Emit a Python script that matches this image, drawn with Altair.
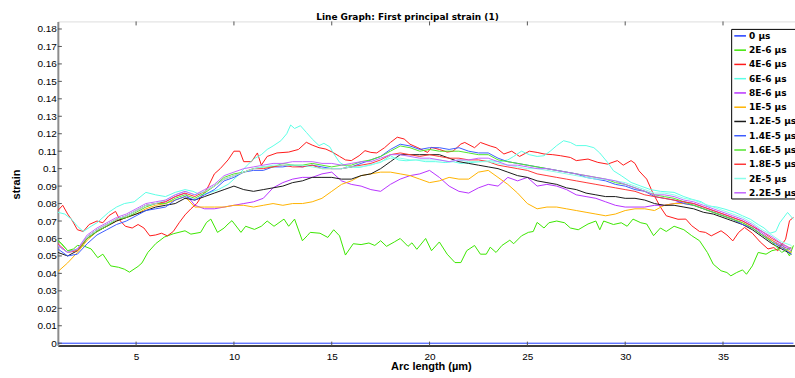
import altair as alt
import pandas as pd

# Series labels and line colours (legend order)
SERIES = ["0 µs", "2E-6 µs", "4E-6 µs", "6E-6 µs", "8E-6 µs", "1E-5 µs",
          "1.2E-5 µs", "1.4E-5 µs", "1.6E-5 µs", "1.8E-5 µs", "2E-5 µs", "2.2E-5 µs"]
COLORS = ["#1f3cff", "#3ce600", "#ff1a1a", "#5cffe6", "#b833ff", "#ffb300",
          "#1a1a1a", "#3d5cff", "#52e62e", "#ff3838", "#8affea", "#c266ff"]

# Arc length sample positions (µm) shared by the smoother curves
X_GRID = [1.0, 1.5, 2.0, 2.5, 3.0, 3.5, 4.0, 4.5, 5.0, 5.5,
          6.0, 6.5, 7.0, 7.5, 8.0, 8.5, 9.0, 9.5, 10.0, 10.5,
          11.0, 11.5, 12.0, 12.5, 13.0, 13.5, 14.0, 14.5, 15.0, 15.5,
          16.0, 16.5, 17.0, 17.5, 18.0, 18.5, 19.0, 19.5, 20.0, 20.5,
          21.0, 21.5, 22.0, 22.5, 23.0, 23.5, 24.0, 24.5, 25.0, 25.5,
          26.0, 26.5, 27.0, 27.5, 28.0, 28.5, 29.0, 29.5, 30.0, 30.5,
          31.0, 31.5, 32.0, 32.5, 33.0, 33.5, 34.0, 34.5, 35.0, 35.5,
          36.0, 36.5, 37.0, 37.5, 38.0, 38.5]

STRAIN_0 = [(1.0, 0.0), (38.6, 0.0)]

STRAIN_2E6 = [(1.0, .059), (1.2, .057), (1.5, .053), (1.8, .054), (2.0, .056), (2.3, .0558),
              (2.7, .054), (3.04, .049), (3.3, .051), (3.7, .0443), (4.1, .0435), (4.4, .0424),
              (4.66, .0407), (5.1, .044), (5.3, .046), (5.6, .052), (6.0, .057), (6.44, .0608),
              (6.9, .0627), (7.5, .0644), (7.8, .0625), (8.3, .0635), (8.6, .0692), (8.82, .0711),
              (9.16, .0635), (9.5, .066), (9.7, .0683), (9.9, .0702), (10.36, .0635), (10.6, .067),
              (11.05, .0652), (11.4, .067), (11.7, .070), (12.05, .067), (12.56, .0711), (12.8, .067),
              (13.1, .0711), (13.5, .0587), (13.75, .0616), (13.9, .0635), (14.4, .063), (14.8, .0606),
              (15.1, .065), (15.4, .0615), (15.7, .0505), (16.1, .057), (16.5, .0565), (16.9, .0574),
              (17.2, .056), (17.5, .0587), (17.8, .0555), (18.2, .058), (18.5, .060), (18.9, .0555),
              (19.1, .0575), (19.35, .0538), (19.8, .060), (20.1, .053), (20.5, .058), (20.9, .051),
              (21.3, .0462), (21.6, .0462), (21.9, .053), (22.3, .056), (22.6, .051), (22.9, .051),
              (23.1, .055), (23.4, .052), (23.7, .056), (24.1, .059), (24.3, .057), (24.7, .0615),
              (25.05, .0635), (25.3, .064), (25.5, .0692), (25.85, .066), (26.1, .069), (26.5, .070),
              (26.9, .069), (27.2, .066), (27.6, .065), (28.1, .0683), (28.5, .070), (28.7, .065),
              (28.9, .070), (29.4, .068), (29.8, .069), (30.1, .067), (30.4, .0711), (30.8, .069),
              (31.1, .0683), (31.45, .0616), (31.8, .066), (32.1, .064), (32.5, .067), (33.0, .065),
              (33.4, .0616), (33.8, .0587), (34.2, .052), (34.5, .0453), (34.9, .0415), (35.2, .0405),
              (35.4, .0386), (35.7, .0405), (36.0, .042), (36.2, .0395), (36.5, .0443), (36.8, .052),
              (37.2, .051), (37.5, .053), (37.8, .0538), (38.0, .057), (38.4, .050), (38.6, .056)]

STRAIN_4E6 = [(1.0, .076), (1.25, .079), (1.5, .074), (1.75, .070), (2.0, .065), (2.3, .064),
              (2.6, .068), (3.0, .070), (3.3, .069), (3.6, .073), (3.95, .0755), (4.2, .070),
              (4.45, .067), (4.8, .066), (5.1, .068), (5.4, .066), (5.7, .0615), (6.0, .062),
              (6.3, .063), (6.6, .0615), (6.9, .064), (7.2, .069), (7.5, .0735), (7.8, .077),
              (8.1, .080), (8.4, .085), (8.7, .090), (9.0, .097), (9.3, .100), (9.7, .105),
              (10.0, .110), (10.3, .110), (10.5, .104), (10.9, .104), (11.2, .109), (11.4, .102),
              (11.7, .107), (12.2, .109), (12.8, .1095), (13.3, .111), (13.7, .1151), (14.0, .1135),
              (14.35, .112), (14.7, .1112), (15.06, .1093), (15.4, .107), (15.7, .105), (16.0, .1046),
              (16.4, .1074), (16.7, .1103), (17.0, .1093), (17.3, .109), (17.7, .112), (18.0, .115),
              (18.35, .118), (18.7, .117), (19.0, .114), (19.4, .112), (19.9, .1093), (20.1, .1122),
              (20.5, .111), (20.9, .1095), (21.2, .110), (21.6, .1141), (21.8, .115), (22.3, .112),
              (22.6, .115), (23.1, .113), (23.4, .112), (23.8, .1084), (24.2, .110), (24.6, .107),
              (25.1, .110), (25.5, .1093), (25.85, .1084), (26.3, .108), (26.7, .1074), (27.2, .1064),
              (27.5, .1046), (28.1, .1055), (28.6, .1036), (29.1, .1026), (29.6, .1046), (29.9, .102),
              (30.3, .1046), (30.5, .103), (30.7, .0988), (31.1, .094), (31.4, .0864), (31.8, .078),
              (32.1, .073), (32.7, .071), (33.1, .0711), (33.4, .0673), (33.8, .064), (34.1, .0635),
              (34.4, .0615), (34.9, .0644), (35.2, .062), (35.5, .0586), (35.8, .0635), (36.1, .0663),
              (36.5, .063), (36.9, .058), (37.3, .054), (37.6, .0548), (37.8, .0529), (38.2, .0596),
              (38.4, .0702), (38.6, .072)]

STRAIN_6E6 = [(1.0, .075), (1.35, .074), (1.7, .071), (2.0, .067), (2.3, .064), (2.7, .067),
              (3.0, .069), (3.6, .075), (4.0, .078), (4.4, .080), (4.9, .081), (5.5, .0864),
              (6.0, .085), (6.5, .084), (7.0, .0864), (7.5, .088), (7.9, .087), (8.3, .085),
              (8.7, .086), (9.2, .088), (9.7, .091), (10.2, .096), (10.6, .101), (11.0, .1055),
              (11.4, .108), (11.7, .111), (12.0, .113), (12.4, .116), (12.7, .120), (12.9, .125),
              (13.1, .123), (13.4, .1246), (13.7, .1208), (14.0, .117), (14.35, .1132), (14.6, .1145),
              (14.9, .1125), (15.06, .1093), (15.4, .1036), (15.8, .101), (16.4, .1007), (16.9, .102),
              (17.5, .1036), (18.0, .1074), (18.4, .105), (18.8, .1045), (19.3, .105), (19.8, .104),
              (20.3, .104), (20.8, .1035), (21.2, .104), (21.6, .103), (22.1, .1035), (22.6, .104),
              (23.1, .1045), (23.6, .104), (24.0, .105), (24.3, .107), (24.7, .110), (25.1, .108),
              (25.5, .107), (25.85, .1074), (26.2, .1103), (26.5, .1132), (26.85, .116), (27.2, .115),
              (27.5, .1132), (28.0, .1132), (28.4, .112), (28.7, .109), (29.1, .1036), (29.4, .0988),
              (29.8, .096), (30.3, .0921), (30.8, .090), (31.3, .088), (31.8, .087), (32.5, .0864),
              (33.0, .084), (33.4, .0825), (33.9, .081), (34.2, .0787), (34.7, .078), (35.1, .0768),
              (35.6, .075), (36.0, .073), (36.4, .071), (36.8, .068), (37.1, .066), (37.4, .063),
              (37.7, .064), (37.9, .069), (38.3, .0749), (38.6, .071)]

STRAIN_8E6 = [.056, .052, .054, .061, .065, .068, .071, .073, .076, .079,
              .080, .081, .084, .086, .079, .077, .077, .078, .079, .080,
              .081, .083, .089, .092, .094, .095, .095, .097, .098, .093,
              .091, .090, .088, .087, .091, .094, .096, .097, .099, .095,
              .090, .087, .086, .089, .091, .090, .095, .093, .095, .090,
              .091, .090, .088, .085, .084, .083, .081, .079, .078, .078,
              .078, .079, .079, .080, .081, .080, .078, .076, .074, .072,
              .070, .067, .063, .059, .056, .053]

STRAIN_1E5 = [.041, .046, .052, .059, .064, .067, .070, .072, .074, .077,
              .079, .080, .082, .084, .078, .078, .078, .078, .079, .079,
              .078, .079, .080, .079, .080, .080, .081, .083, .087, .091,
              .093, .096, .097, .098, .098, .097, .096, .094, .092, .093,
              .095, .094, .094, .098, .099, .095, .091, .086, .080, .077,
              .078, .078, .077, .076, .075, .074, .073, .074, .076, .077,
              .077, .076, .079, .080, .080, .079, .077, .075, .073, .071,
              .069, .066, .062, .059, .055, .052]

STRAIN_12E6 = [.052, .050, .053, .060, .064, .067, .070, .072, .074, .076,
               .078, .079, .080, .083, .082, .084, .086, .088, .090, .088,
               .087, .088, .089, .090, .092, .093, .095, .095, .095, .094,
               .094, .096, .097, .100, .104, .108, .108, .108, .108, .108,
               .106, .104, .103, .102, .101, .100, .098, .096, .095, .093,
               .092, .091, .089, .088, .086, .085, .084, .084, .083, .083,
               .082, .080, .079, .079, .078, .077, .075, .074, .072, .070,
               .068, .065, .061, .057, .054, .051]

STRAIN_14E6 = [.054, .050, .051, .057, .062, .065, .068, .070, .073, .076,
               .077, .078, .082, .084, .082, .085, .088, .093, .095, .098,
               .099, .099, .101, .101, .102, .101, .102, .101, .100, .100,
               .101, .103, .105, .107, .111, .114, .113, .111, .112, .112,
               .111, .112, .110, .109, .109, .106, .104, .103, .102, .101,
               .100, .099, .098, .097, .095, .094, .093, .091, .090, .088,
               .087, .084, .083, .082, .080, .079, .077, .075, .073, .071,
               .068, .066, .062, .058, .055, .051]

STRAIN_16E6 = [.059, .053, .053, .060, .064, .067, .071, .072, .075, .078,
               .080, .080, .083, .085, .083, .086, .090, .095, .097, .098,
               .100, .101, .101, .103, .102, .102, .103, .102, .101, .102,
               .102, .104, .105, .107, .110, .113, .112, .110, .111, .110,
               .110, .110, .109, .108, .108, .105, .104, .103, .102, .101,
               .100, .099, .098, .097, .096, .095, .094, .092, .091, .089,
               .087, .085, .084, .083, .081, .079, .077, .075, .073, .071,
               .069, .066, .062, .058, .052, .055]

STRAIN_18E6 = [.057, .052, .053, .061, .065, .068, .071, .073, .076, .079,
               .080, .081, .084, .086, .084, .087, .090, .094, .096, .098,
               .100, .100, .101, .102, .101, .101, .102, .100, .100, .100,
               .101, .102, .103, .105, .108, .109, .108, .107, .108, .107,
               .106, .106, .105, .105, .104, .102, .101, .100, .099, .097,
               .096, .095, .094, .093, .092, .091, .090, .089, .088, .087,
               .085, .084, .083, .082, .081, .080, .078, .076, .074, .072,
               .070, .067, .064, .060, .057, .054]

STRAIN_2E5 = [.056, .052, .054, .061, .065, .068, .071, .073, .076, .079,
              .080, .082, .085, .087, .085, .087, .090, .094, .096, .098,
              .100, .101, .102, .102, .102, .102, .101, .100, .100, .100,
              .101, .101, .102, .104, .106, .106, .105, .105, .105, .105,
              .104, .105, .104, .104, .104, .103, .102, .101, .100, .100,
              .099, .098, .097, .096, .095, .094, .094, .093, .092, .090,
              .088, .086, .086, .085, .083, .082, .080, .078, .076, .074,
              .072, .069, .065, .062, .058, .056]

STRAIN_22E6 = [.056, .052, .054, .062, .066, .069, .072, .074, .077, .080,
               .081, .082, .085, .087, .085, .088, .091, .096, .098, .100,
               .101, .102, .103, .103, .104, .104, .104, .103, .103, .102,
               .103, .104, .104, .106, .108, .108, .107, .106, .106, .105,
               .104, .105, .105, .106, .106, .104, .102, .102, .101, .100,
               .100, .099, .098, .097, .096, .095, .094, .093, .091, .089,
               .087, .085, .085, .084, .082, .081, .079, .077, .075, .073,
               .071, .068, .064, .061, .057, .054]

Y_TICKS = [0, 0.01, 0.02, 0.03, 0.04, 0.05, 0.06, 0.07, 0.08, 0.09,
           0.1, 0.11, 0.12, 0.13, 0.14, 0.15, 0.16, 0.17, 0.18]
X_TICKS = [5, 10, 15, 20, 25, 30, 35]

PAIR_SERIES = {"0 µs": STRAIN_0, "2E-6 µs": STRAIN_2E6,
               "4E-6 µs": STRAIN_4E6, "6E-6 µs": STRAIN_6E6}
GRID_SERIES = {"8E-6 µs": STRAIN_8E6, "1E-5 µs": STRAIN_1E5, "1.2E-5 µs": STRAIN_12E6,
               "1.4E-5 µs": STRAIN_14E6, "1.6E-5 µs": STRAIN_16E6, "1.8E-5 µs": STRAIN_18E6,
               "2E-5 µs": STRAIN_2E5, "2.2E-5 µs": STRAIN_22E6}

rows = []
for name in SERIES:
    if name in PAIR_SERIES:
        pts = PAIR_SERIES[name]
    else:
        pts = list(zip(X_GRID, GRID_SERIES[name]))
    for k, (x, y) in enumerate(pts):
        rows.append({"series": name, "arc": x, "strain": y, "k": k})
df = pd.DataFrame(rows)

FONT = "DejaVu Sans"
W, H = 739, 325
x_scale = alt.Scale(domain=[1.0, 38.68], nice=False, zero=False)
y_scale = alt.Scale(domain=[-0.00137, 0.18434], nice=False, zero=False)

# One axis definition per direction, shared by every layer so they merge cleanly
X_AXIS = alt.Axis(title="Arc length (µm)", values=X_TICKS, ticks=False, tickSize=0,
                  grid=False, labelOverlap=False, labelPadding=6,
                  domainColor="#000000", domainWidth=1.5,
                  titleX=374, titleY=24, titleAnchor="middle", titleBaseline="alphabetic")
Y_AXIS = alt.Axis(title="strain", values=Y_TICKS, format=".2~f", ticks=False,
                  tickSize=0, grid=False, labelOverlap=False, labelPadding=1.5,
                  domainColor="#8c8c8c", domainWidth=2,
                  titleX=-38, titleY=163, titleAngle=-90, titleAlign="center",
                  titleBaseline="alphabetic")

lines = alt.Chart(df).mark_line(strokeWidth=1, clip=True).encode(
    x=alt.X("arc:Q", scale=x_scale, axis=X_AXIS),
    y=alt.Y("strain:Q", scale=y_scale, axis=Y_AXIS),
    color=alt.Color("series:N", scale=alt.Scale(domain=SERIES, range=COLORS),
                    legend=alt.Legend(title=None, orient="none", legendX=675, legendY=7.5,
                                      symbolType="stroke", symbolSize=137,
                                      symbolStrokeWidth=1.5, symbolOffset=2,
                                      labelFont=FONT, labelFontSize=9,
                                      labelFontWeight="bold", labelColor="#000000",
                                      labelOffset=2, rowPadding=2.3, padding=0,
                                      strokeColor="#000000", fillColor="#ffffff")),
    order="k:Q",
)

tick_y = alt.Chart(pd.DataFrame({"v": Y_TICKS})).mark_rule(color="#555555", strokeWidth=1).encode(
    y=alt.Y("v:Q", scale=y_scale, axis=Y_AXIS), x=alt.value(0), x2=alt.value(4))
tick_xb = alt.Chart(pd.DataFrame({"v": X_TICKS})).mark_rule(color="#555555", strokeWidth=1).encode(
    x=alt.X("v:Q", scale=x_scale, axis=X_AXIS), y=alt.value(H), y2=alt.value(H - 4))
tick_xt = alt.Chart(pd.DataFrame({"v": X_TICKS})).mark_rule(color="#555555", strokeWidth=1).encode(
    x=alt.X("v:Q", scale=x_scale, axis=X_AXIS), y=alt.value(0), y2=alt.value(4))

chart = alt.layer(lines, tick_y, tick_xb, tick_xt).properties(
    width=W, height=H,
    title=alt.TitleParams("Line Graph: First principal strain (1)", anchor="start",
                          frame="group", dx=259, dy=10, offset=2, baseline="alphabetic",
                          font=FONT, fontSize=9, fontWeight="bold", color="#000000"),
    autosize=alt.AutoSizeParams(type="none"),
    padding={"left": 58, "top": 21, "right": 0, "bottom": 32},
).configure_view(stroke="#000000", strokeWidth=1).configure_axis(
    grid=False, labelFont=FONT, labelFontSize=9, labelFontWeight="bold", labelColor="#000000",
    titleFont=FONT, titleFontSize=9, titleFontWeight="bold", titleColor="#000000",
).configure(background="#ffffff")

chart.save("out.html", embed_options={"renderer": "svg", "actions": False})
